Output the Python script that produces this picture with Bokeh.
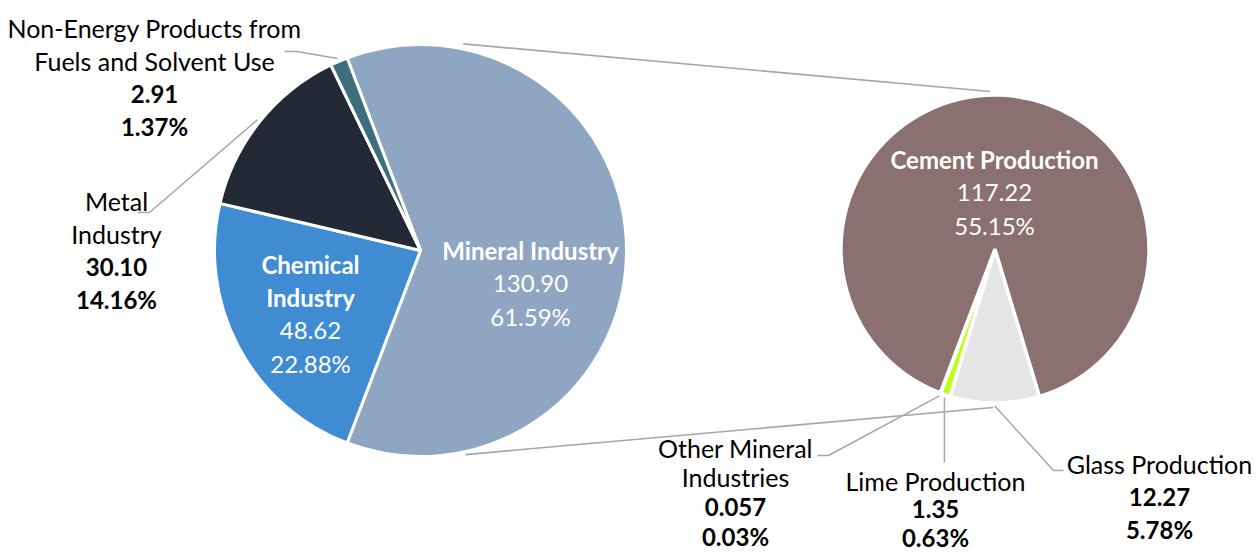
import math
from bokeh.plotting import figure
from bokeh.models import Range1d
from bokeh.core.properties import value
from bokeh.embed import file_html
from bokeh.resources import INLINE

# ---------------- data ----------------
main_categories = ["Mineral Industry", "Chemical Industry", "Metal Industry",
                   "Non-Energy Products from Fuels and Solvent Use"]
main_values = [130.90, 48.62, 30.10, 2.91]
main_value_labels = ["130.90", "48.62", "30.10", "2.91"]
main_pct_labels = ["61.59%", "22.88%", "14.16%", "1.37%"]
main_colors = ["#8FA6C3", "#3F8CD3", "#232A35", "#3D6E7D"]

sub_categories = ["Glass Production", "Lime Production", "Other Mineral Industries",
                  "Cement Production"]
sub_values = [12.27, 1.35, 0.057, 117.22]
sub_value_labels = ["12.27", "1.35", "0.057", "117.22"]
sub_pct_labels = ["5.78%", "0.63%", "0.03%", "55.15%"]
sub_colors = ["#E5E5E5", "#BEFF1C", "#7F7F7F", "#8A7070"]

# ---------------- layout (picture pixels; y down) ----------------
W, H = 1251, 552
FONT = "Lato"
FS = "24px"
FS_NAME = "25px"
LINE = 33
GREY = "#A6A6A6"

C1 = (420.0, 250.0); R1 = 206.0
C2 = (994.5, 248.5); R2 = 154.0
SUB_START = 163.2  # compass degrees where the first sub slice starts

p = figure(width=W, height=H, x_range=Range1d(0, W), y_range=Range1d(-H, 0),
           output_backend="svg", toolbar_location=None, min_border=0)
p.axis.visible = False
p.grid.visible = False
p.outline_line_color = None
p.background_fill_color = "white"
p.border_fill_color = "white"


def polar(c, r, compass):
    a = math.radians(compass)
    return c[0] + r * math.sin(a), -(c[1] - r * math.cos(a))


def slices(vals, start):
    tot = sum(vals)
    out = []
    c = start
    for v in vals:
        span = v / tot * 360.0
        out.append((c, c + span))
        c += span
    return out


main_sl = slices(main_values, 90 - main_values[0] / sum(main_values) * 180.0)
sub_sl = slices(sub_values, SUB_START)


def draw_pie(center, r, sl, colors, lw):
    xs, ys, sa, ea = [], [], [], []
    for (c1, c2) in sl:
        xs.append(center[0]); ys.append(-center[1])
        sa.append(math.radians(90 - c2)); ea.append(math.radians(90 - c1))
    p.wedge(x=xs, y=ys, radius=r, start_angle=sa, end_angle=ea,
            fill_color=colors, line_color="white", line_width=lw)


# connector lines between the pies
top_a = polar(C1, 211, 11.7); top_b = polar(C2, 157.6, -1.8)
bot_a = polar(C1, 209, 167.6); bot_b = polar(C2, 158.5, 180.6)
p.line([top_a[0], top_b[0]], [top_a[1], top_b[1]], line_color=GREY, line_width=1.6)
p.line([bot_a[0], bot_b[0]], [bot_a[1], bot_b[1]], line_color=GREY, line_width=1.6)

draw_pie(C1, R1, main_sl, main_colors, 3)
draw_pie(C2, R2, sub_sl, sub_colors, 3.5)


def mid(sl):
    return (sl[0] + sl[1]) / 2


# leader lines: (pie centre, radius, slice, elbow, end)
leaders = [
    (C1, R1 + 3, main_sl[3], (296, 51), (284, 51)),
    (C1, R1 + 3, main_sl[2], (149, 212), (137, 212)),
    (C2, R2 + 3, sub_sl[2], (828, 455), (817, 455)),
    (C2, R2 + 3, sub_sl[1], None, None),
    (C2, R2 + 3, sub_sl[0], (1053, 470), (1063, 470)),
]
for c, r, sl, elbow, end in leaders:
    sx, sy = polar(c, r, mid(sl))
    if elbow is None:
        xs = [sx, sx]; ys = [sy, -462]
    else:
        xs = [sx, elbow[0], end[0]]; ys = [sy, -elbow[1], -end[1]]
    p.line(xs, ys, line_color=GREY, line_width=1.5)


def label(x, y, lines, color, bold_flags, name_size=FS, step=LINE):
    for i, (t, b) in enumerate(zip(lines, bold_flags)):
        size = FS if (b or color == "white") else name_size
        p.text(x=[x], y=[-(y + i * step)], text=[t], text_align="center",
               text_baseline="middle", text_color=color, text_font=value(FONT),
               text_font_size=size, text_font_style="bold" if b else "normal")


# inside (white) labels: name bold, values normal
label(530, 250, ["Mineral Industry", main_value_labels[0], main_pct_labels[0]],
      "white", [True, False, False])
label(310, 264, ["Chemical", "Industry", main_value_labels[1], main_pct_labels[1]],
      "white", [True, True, False, False])
label(994, 159, ["Cement Production", sub_value_labels[3], sub_pct_labels[3]],
      "white", [True, False, False])

# outside (black) labels: name normal, values bold
label(154, 27, ["Non-Energy Products from", "Fuels and Solvent Use",
                main_value_labels[3], main_pct_labels[3]],
      "black", [False, False, True, True], FS_NAME)
label(116, 200, ["Metal", "Industry", main_value_labels[2], main_pct_labels[2]],
      "black", [False, False, True, True], FS_NAME)
label(735, 447, ["Other Mineral", "Industries", sub_value_labels[2], sub_pct_labels[2]],
      "black", [False, False, True, True], FS_NAME, 29.7)
label(935, 480, ["Lime Production", sub_value_labels[1], sub_pct_labels[1]],
      "black", [False, True, True], FS_NAME, 28.5)
label(1159, 463, ["Glass Production", sub_value_labels[0], sub_pct_labels[0]],
      "black", [False, True, True], FS_NAME)

open("out.html", "w").write(file_html(p, INLINE))
